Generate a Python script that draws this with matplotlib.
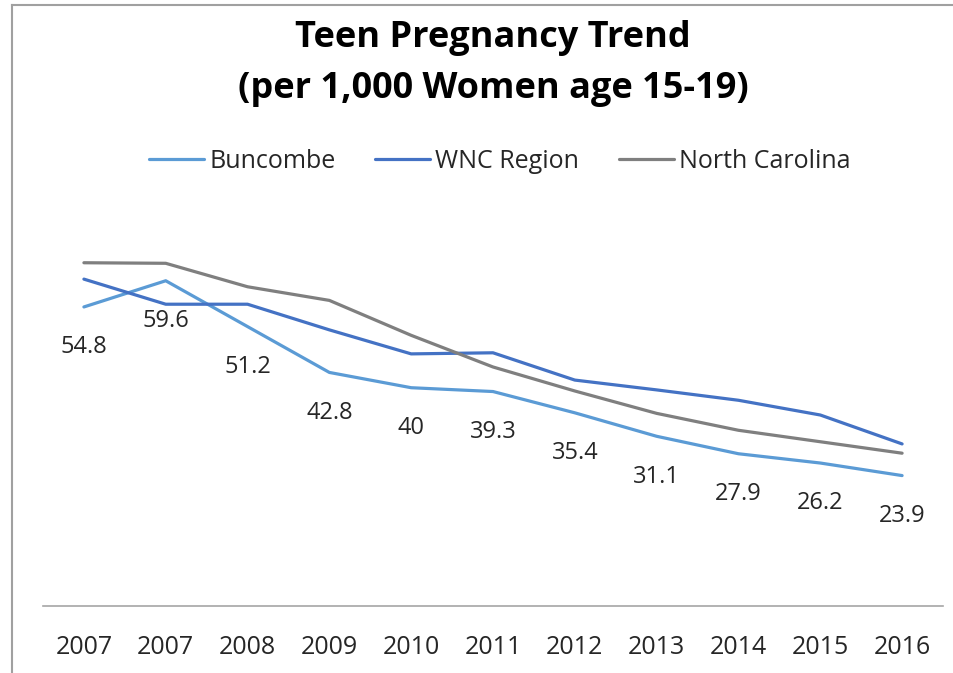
import matplotlib
matplotlib.use('Agg')
import matplotlib.pyplot as plt
from matplotlib.lines import Line2D

years = ['2007', '2007', '2008', '2009', '2010', '2011', '2012', '2013', '2014', '2015', '2016']
buncombe = [54.8, 59.6, 51.2, 42.8, 40, 39.3, 35.4, 31.1, 27.9, 26.2, 23.9]
wnc_region = [59.9, 55.3, 55.3, 50.6, 46.2, 46.4, 41.4, 39.6, 37.7, 35.0, 29.7]
north_carolina = [62.9, 62.8, 58.5, 56.0, 49.6, 43.8, 39.4, 35.3, 32.2, 30.1, 28.0]

plt.rcParams['font.family'] = ['Open Sans', 'DejaVu Sans']

W, H = 954, 673
fig = plt.figure(figsize=(W / 100, H / 100), dpi=100)
ax = fig.add_axes([43 / W, (H - 606) / H, 900 / W, 382 / H])

x = list(range(len(years)))
ax.plot(x, buncombe, color='#5b9bd5', lw=2.3, label='Buncombe', solid_capstyle='round')
ax.plot(x, wnc_region, color='#4472c4', lw=2.3, label='WNC Region', solid_capstyle='round')
ax.plot(x, north_carolina, color='#7f7f7f', lw=2.3, label='North Carolina', solid_capstyle='round')

# data labels under the Buncombe line
for xi, v in zip(x, buncombe):
    ax.annotate('%g' % v, (xi, v), xytext=(0, -29), textcoords='offset points',
                ha='center', va='center', fontsize=17, color='#262626')

ax.set_xlim(-0.5, 10.5)
ax.set_ylim(0, 70)
ax.set_xticks(x)
ax.set_xticklabels(years, fontsize=18, color='#262626')
ax.set_yticks([])
ax.tick_params(axis='x', length=0, pad=21)
for s in ['left', 'right', 'top']:
    ax.spines[s].set_visible(False)
ax.spines['bottom'].set_color('#a6a6a6')
ax.spines['bottom'].set_linewidth(1.2)

fig.text(493 / W, 1 - 38 / H, 'Teen Pregnancy Trend', ha='center', va='center',
         fontsize=26, fontweight='bold')
fig.text(493 / W, 1 - 89 / H, '(per 1,000 Women age 15-19)', ha='center', va='center',
         fontsize=26, fontweight='bold')

fig.legend(loc='center', bbox_to_anchor=(500 / W, 1 - 161 / H), ncol=3, frameon=False,
           fontsize=18, handlelength=2.2, handletextpad=0.2, columnspacing=1.6,
           labelcolor='#262626')

# chart border (top and left edges visible in the crop)
fig.add_artist(Line2D([12 / W, 1], [1 - 4.5 / H, 1 - 4.5 / H], color='#a0a0a0', lw=1.5))
fig.add_artist(Line2D([12 / W, 12 / W], [0, 1 - 4.5 / H], color='#a0a0a0', lw=1.5))

fig.savefig('out.png', dpi=100)
